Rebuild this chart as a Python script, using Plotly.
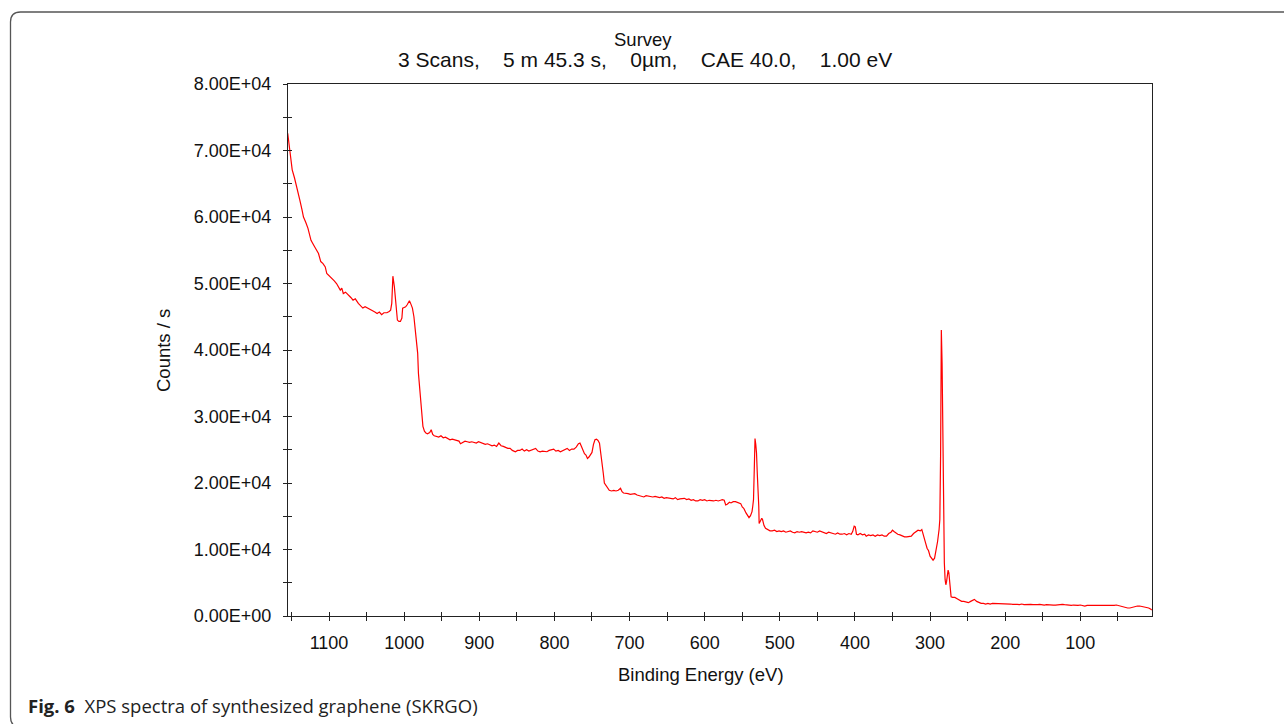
import plotly.graph_objects as go

# XPS survey spectrum of SKRGO: binding energy (eV) and intensity (counts/s)
binding_energy = [
    1155, 1154, 1152, 1149, 1146, 1143, 1139, 1136, 1134, 1131, 1128, 1124, 1121, 1119,
    1114, 1111, 1108, 1105, 1103, 1101, 1099, 1096, 1093, 1090, 1088, 1085, 1083, 1081,
    1078, 1074, 1071, 1068, 1065, 1061, 1058, 1055, 1052, 1048, 1045, 1042, 1039, 1036,
    1033, 1030, 1027, 1023, 1020, 1018, 1016.5, 1015, 1013, 1011, 1009, 1007, 1005, 1003,
    1002, 1000, 998, 996, 993, 991, 989, 987, 985, 983, 982, 981, 979, 977, 975, 973, 971,
    969, 966, 964, 962, 960, 957, 954, 951, 948, 945, 942, 939, 936, 933, 930, 927, 925,
    922, 919, 916, 913, 910, 907, 904, 901, 898, 895, 892, 889, 886, 883, 880, 877, 874,
    871, 868, 865, 862, 859, 856, 852, 849, 846, 843, 840, 837, 834, 831, 828, 825, 822,
    819, 816, 813, 810, 807, 804, 801, 798, 795, 792, 789, 786, 783, 780, 777, 774, 771,
    768, 766, 764, 762, 760, 758, 756, 754, 752, 750, 748, 746, 744, 742, 740, 738, 736.5,
    735, 733.5, 731, 729.5, 727, 724, 721, 718, 715, 712, 710, 708, 705, 702, 699, 696,
    693, 690, 687, 684, 681, 678, 675, 672, 669, 666, 663, 660, 657, 654, 651, 648, 645,
    642, 639, 636, 633, 630, 627, 624, 621, 618, 615, 612, 609, 606, 603, 600, 597, 594,
    591, 588, 585, 582, 579, 576.5, 574, 572, 570, 567, 565, 562, 559, 556, 554, 552, 550,
    548, 545, 543, 541, 539, 537, 536, 535, 534, 533, 532, 531, 530, 529, 528, 527.5, 526,
    524, 523, 521, 519, 516, 513, 510, 507, 504, 501, 498, 495, 492, 489, 486, 483, 480,
    477, 474, 471, 468, 465, 462, 459, 456, 453, 450, 447, 444, 441, 438, 435, 432, 429,
    426, 423, 420, 417, 414, 411, 408, 405, 403, 401, 399.5, 398, 396, 393, 390, 387, 385,
    382, 379, 376, 373, 370, 367, 364, 361, 358, 355, 352, 350, 348, 345, 343, 340, 337,
    334, 331, 328, 325, 322, 319, 316, 313, 311, 310, 308, 306, 304, 302, 300, 298, 296,
    294, 292, 290, 288, 287, 286, 285, 284, 283, 282, 281, 280, 279, 278, 277, 276, 275,
    274, 273, 272, 270, 267, 264, 261, 258, 255, 252, 249, 246, 243, 241, 238, 235, 232,
    229, 226, 223, 220, 217, 214, 211, 208, 205, 202, 199, 196, 193, 190, 187, 184, 181,
    178, 175, 172, 169, 166, 163, 160, 157, 154, 151, 148, 145, 142, 139, 136, 133, 130,
    127, 124, 121, 118, 115, 112, 109, 106, 103, 100, 97, 94, 91, 88, 85, 82, 79, 76, 73,
    70, 67, 64, 61, 58, 55, 52, 49, 46, 43, 40, 37, 34, 31, 28, 26, 24, 21, 18, 15, 12, 9,
    6, 5,
]

counts = [
    72600, 71600, 69600, 67100, 65900, 64600, 62600, 61100, 60000, 59200, 58300, 56500, 56000, 55500,
    54500, 53300, 53000, 52500, 51500, 51300, 51000, 50800, 50400, 50000, 49600, 49000, 49300, 48500,
    48700, 48300, 47900, 47500, 47700, 47000, 46700, 46300, 46500, 46300, 46100, 45900, 45700, 45500,
    45700, 45300, 45600, 45600, 45800, 46000, 47000, 51100, 49500, 46500, 44500, 44300, 44300, 44800,
    46300, 46400, 46500, 46800, 47400, 46900, 46300, 45000, 43000, 41000, 39500, 36500, 33500, 30500, 28500, 27800, 27500,
    27400, 27600, 28000, 27300, 27100, 27000, 26900, 27100, 26800, 26900, 26700, 26500, 26600, 26500, 26500, 26300, 25900,
    26100, 26300, 26200, 26100, 26200, 26100, 26000, 26200, 26100, 26000, 25800, 25900, 25800, 25600, 25700, 25500, 26000,
    25600, 25500, 25300, 25200, 25200, 24900, 24700, 24900, 24900, 25100, 24800, 25000, 24800, 24900, 25000, 25200, 24800,
    24700, 24800, 24700, 24700, 24900, 25000, 25100, 24800, 24900, 24700, 24900, 25000, 25200, 24900, 25100, 25100, 25400,
    25900, 26000, 25500, 25000, 24400, 24200, 23700, 23900, 24200, 24600, 25800, 26500, 26600, 26400, 26000, 24500, 23000,
    21500, 20000, 19500, 19200, 18900, 18800, 18900, 18800, 18900, 19200, 18700, 18500, 18500, 18400, 18300, 18300,
    18400, 18200, 18100, 18100, 17900, 18100, 18000, 18000, 17900, 18000, 17900, 17800, 17900, 17700, 17800, 17700, 17700,
    17600, 17800, 17500, 17600, 17700, 17700, 17500, 17600, 17400, 17500, 17300, 17300, 17500, 17400, 17500, 17300, 17400,
    17300, 17300, 17400, 17300, 17400, 17500, 17400, 16700, 16800, 17100, 17000, 17200, 17200, 17100, 17000, 16900, 16400,
    16200, 15500, 15200, 14800, 15100, 15700, 16500, 17500, 22000, 26700, 25800, 24500, 21500, 19400, 16500, 13900, 14200,
    14700, 14500, 13600, 13200, 13000, 12800, 12800, 12900, 12700, 12800, 12700, 12800, 12600, 12700, 12800, 12600, 12500,
    12700, 12600, 12700, 12600, 12500, 12600, 12500, 12800, 12700, 12600, 12800, 12700, 12600, 12400, 12600, 12500, 12400,
    12300, 12500, 12300, 12300, 12400, 12200, 12400, 12300, 12700, 13500, 13400, 12300, 12200, 12400, 12200, 12300, 12000,
    12200, 12100, 12200, 12000, 12200, 12100, 12200, 12000, 12000, 12400, 12600, 12900, 12700, 12400, 12300, 12200, 12000,
    11900, 11900, 11900, 12000, 12400, 12700, 12900, 12800, 13000, 12600, 11600, 11000, 10200, 9800, 9000, 8600, 8400,
    8700, 9700, 11200, 13000, 14500, 24000, 43000, 38000, 27000, 13000, 8000, 5500, 4700, 5200, 6300, 6900, 6500,
    5400, 3500, 2900, 2800, 2800, 2600, 2400, 2200, 2200, 2100, 2000, 2200, 2400, 2500, 2200, 2000, 1900,
    1900, 1800, 1900, 1800, 1900, 1900, 1800, 1900, 1900, 1800, 1850, 1800, 1800, 1750, 1800, 1750, 1700,
    1800, 1700, 1750, 1700, 1750, 1700, 1650, 1700, 1750, 1650, 1650, 1700, 1650, 1700, 1650, 1650, 1700,
    1650, 1750, 1700, 1650, 1650, 1600, 1650, 1600, 1600, 1650, 1550, 1500, 1600, 1600, 1550, 1600, 1500, 1550, 1500,
    1600, 1550, 1500, 1550, 1550, 1600, 1650, 1550, 1500, 1400, 1300, 1200, 1200, 1300, 1400, 1550, 1500, 1500, 1450, 1400, 1350, 1200,
    1000, 900,
]

# Axis ticks and labels
x_major = [1100, 1000, 900, 800, 700, 600, 500, 400, 300, 200, 100]
x_minor = [1150, 1050, 950, 850, 750, 650, 550, 450, 350, 250, 150, 50]
x_ticks_all = sorted(x_major + x_minor)
y_major = [0, 10000, 20000, 30000, 40000, 50000, 60000, 70000, 80000]
y_minor = [5000, 15000, 25000, 35000, 45000, 55000, 65000, 75000]
y_ticks_all = sorted(y_major + y_minor)
y_labels = ["0.00E+00", "1.00E+04", "2.00E+04", "3.00E+04", "4.00E+04",
            "5.00E+04", "6.00E+04", "7.00E+04", "8.00E+04"]

x_range = [1154.6, 4.6]
y_range = [0, 80000]

W, H = 1284, 724
L, R, T, B = 288, 1152, 84, 616  # plot area in page pixels


def px_x(px):
    return (px - L) / (R - L)


def px_y(py):
    return (B - py) / (B - T)


AX = "#222222"
FONT = "Liberation Sans, Arial, sans-serif"
TXT = "#111111"

fig = go.Figure()
fig.add_trace(go.Scatter(
    x=binding_energy, y=counts, mode="lines",
    line=dict(color="#ff0000", width=1.2), hoverinfo="skip", showlegend=False,
))
# empty trace that carries the overlay axes used for the inward half of each tick
fig.add_trace(go.Scatter(x=[], y=[], xaxis="x2", yaxis="y2", showlegend=False))

tick_common = dict(ticklen=4, tickwidth=1.3, tickcolor=AX, showgrid=False, zeroline=False)

fig.update_layout(
    width=W, height=H,
    margin=dict(l=L, r=W - R, t=T, b=H - B, pad=0),
    paper_bgcolor="white", plot_bgcolor="white",
    font=dict(family=FONT, size=18, color=TXT),
    xaxis=dict(
        range=x_range, tickmode="array", tickvals=x_major, ticktext=[str(v) for v in x_major],
        ticks="outside", showline=True, linecolor=AX, linewidth=1.3, mirror=True,
        minor=dict(tickmode="array", tickvals=x_minor, ticks="outside", ticklen=4,
                   tickwidth=1.3, tickcolor=AX),
        ticklabelstandoff=6, tickfont=dict(size=18),
        **tick_common,
    ),
    yaxis=dict(
        range=y_range, tickmode="array", tickvals=y_major, ticktext=y_labels,
        ticks="outside", showline=True, linecolor=AX, linewidth=1.3, mirror=True,
        minor=dict(tickmode="array", tickvals=y_minor, ticks="outside", ticklen=4,
                   tickwidth=1.3, tickcolor=AX),
        ticklabelstandoff=8, tickfont=dict(size=18),
        **tick_common,
    ),
    xaxis2=dict(
        range=x_range, overlaying="x", anchor="y2", side="bottom",
        tickmode="array", tickvals=x_ticks_all, ticks="inside",
        showticklabels=False, showline=False, **tick_common,
    ),
    yaxis2=dict(
        range=y_range, overlaying="y", anchor="x2", side="left",
        tickmode="array", tickvals=y_ticks_all, ticks="inside",
        showticklabels=False, showline=False, **tick_common,
    ),
)

gap = "," + "\u00a0" * 4
subtitle = gap.join(["3 Scans", "5 m 45.3 s", "0µm", "CAE 40.0", "1.00 eV"])

annotations = [
    dict(text="Survey", x=px_x(643), y=px_y(39), font_size=18.5),
    dict(text=subtitle, x=px_x(645), y=px_y(60), font_size=21),
    dict(text="Binding Energy (eV)", x=px_x(701), y=px_y(674), font_size=18.5),
    dict(text="Counts / s", x=px_x(163), y=px_y(351), textangle=-90, font_size=18.5),
]
for a in annotations:
    size = a.pop("font_size")
    fig.add_annotation(xref="paper", yref="paper", showarrow=False,
                       xanchor="center", yanchor="middle",
                       font=dict(family=FONT, size=size, color=TXT), **a)

fig.add_annotation(
    xref="paper", yref="paper", showarrow=False, xanchor="left", yanchor="middle",
    x=px_x(26), y=px_y(705),
    text="<b>Fig. 6</b>\u00a0\u00a0XPS spectra of synthesized graphene (SKRGO)",
    font=dict(family="Open Sans, Noto Sans, sans-serif", size=18.5, color="#222222"),
)

# rounded frame around the figure panel
x0, y0, x1, y1, rad = px_x(10.5), px_y(12), px_x(1300), px_y(727), 10
rx, ry = rad / (R - L), rad / (B - T)
frame = (f"M {x1} {y0} L {x0 + rx} {y0} Q {x0} {y0} {x0} {y0 - ry} "
         f"L {x0} {y1 + ry} Q {x0} {y1} {x0 + rx} {y1} L {x1} {y1}")
fig.add_shape(type="path", path=frame, xref="paper", yref="paper",
              line=dict(color="#555555", width=1.3), layer="below")

fig.write_html("out.html")
